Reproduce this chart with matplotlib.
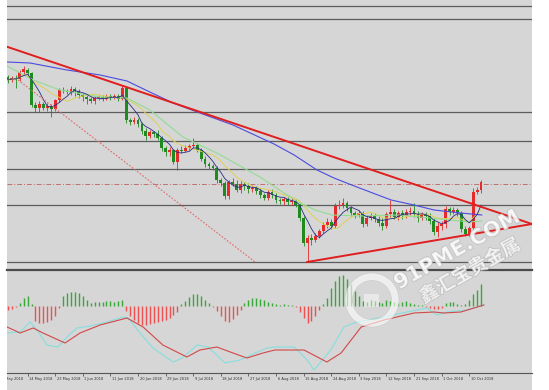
import matplotlib
matplotlib.use("Agg")
import matplotlib.pyplot as plt
import matplotlib.patheffects as pe
import numpy as np
import pandas as pd
from matplotlib.patches import Rectangle, Wedge
from matplotlib.lines import Line2D

# ---------------- data ----------------
bar_index = list(range(2, 123))

open_ = [1308.4, 1306.0, 1307.6, 1306.8, 1312.4, 1314.0, 1311.6, 1286.0, 1283.6, 1286.8,
         1283.6, 1285.2, 1282.8, 1290.0, 1298.0, 1297.2, 1296.4, 1298.8, 1297.2, 1294.0,
         1292.4, 1290.8, 1289.2, 1291.6, 1292.4, 1290.8, 1293.2, 1291.6, 1293.2, 1290.8,
         1299.6, 1274.0, 1272.4, 1274.0, 1270.8, 1265.2, 1261.2, 1264.4, 1262.8, 1259.6,
         1251.6, 1248.4, 1250.0, 1240.4, 1250.0, 1249.2, 1251.6, 1253.2, 1254.0, 1250.0,
         1242.8, 1238.8, 1237.2, 1235.6, 1226.0, 1223.6, 1213.2, 1224.4, 1222.8, 1218.0,
         1222.8, 1221.2, 1218.8, 1219.6, 1217.2, 1214.0, 1211.6, 1216.4, 1214.0, 1210.0,
         1209.2, 1210.8, 1208.4, 1209.2, 1206.0, 1195.6, 1175.6, 1179.6, 1178.0, 1181.2,
         1185.2, 1190.0, 1192.4, 1189.2, 1205.2, 1206.0, 1207.6, 1203.6, 1199.6, 1198.0,
         1199.6, 1190.8, 1195.6, 1197.2, 1194.8, 1191.6, 1189.2, 1198.8, 1200.4, 1196.4,
         1199.6, 1197.2, 1200.4, 1201.2, 1198.8, 1195.6, 1198.8, 1197.2, 1193.2, 1184.4,
         1189.2, 1190.8, 1202.8, 1200.4, 1202.0, 1199.6, 1186.8, 1182.8, 1187.6, 1216.4, 1218.0]

high = [1310.0, 1309.2, 1310.0, 1314.0, 1317.2, 1315.6, 1312.4, 1288.4, 1289.2, 1288.4,
        1287.6, 1286.8, 1290.8, 1299.6, 1300.4, 1298.8, 1301.2, 1300.4, 1298.8, 1295.6,
        1294.0, 1292.4, 1293.2, 1294.0, 1294.0, 1294.8, 1294.8, 1294.8, 1294.8, 1302.0,
        1300.4, 1275.6, 1276.4, 1275.6, 1272.4, 1267.6, 1266.0, 1265.2, 1266.0, 1261.2,
        1253.2, 1252.4, 1250.8, 1251.6, 1253.2, 1254.0, 1254.8, 1259.6, 1255.6, 1251.6,
        1245.2, 1240.4, 1238.8, 1237.2, 1227.6, 1225.2, 1226.0, 1227.6, 1226.0, 1225.2,
        1224.4, 1223.6, 1222.0, 1221.2, 1219.6, 1215.6, 1218.0, 1218.8, 1215.6, 1211.6,
        1212.4, 1212.4, 1211.6, 1210.8, 1207.6, 1197.2, 1182.0, 1182.8, 1183.6, 1186.8,
        1192.4, 1195.6, 1194.8, 1207.6, 1210.0, 1211.6, 1209.2, 1205.2, 1201.2, 1202.0,
        1201.2, 1198.0, 1199.6, 1199.6, 1197.2, 1195.6, 1200.4, 1210.0, 1202.8, 1201.2,
        1202.0, 1202.8, 1204.4, 1207.6, 1201.2, 1200.4, 1200.4, 1199.6, 1195.6, 1192.4,
        1193.2, 1205.2, 1204.4, 1204.4, 1203.6, 1201.2, 1189.2, 1189.2, 1219.6, 1220.4, 1226.0]

low = [1303.6, 1304.4, 1299.6, 1305.2, 1310.8, 1310.0, 1284.4, 1280.4, 1280.4, 1282.0,
       1281.2, 1276.4, 1281.2, 1288.4, 1295.6, 1294.8, 1294.0, 1293.2, 1291.6, 1289.2,
       1286.8, 1287.6, 1286.8, 1290.0, 1289.2, 1290.0, 1290.0, 1290.8, 1289.2, 1290.0,
       1271.6, 1270.0, 1270.8, 1268.4, 1262.8, 1258.0, 1259.6, 1260.4, 1258.0, 1249.2,
       1245.2, 1245.2, 1238.8, 1234.0, 1247.6, 1248.4, 1250.0, 1251.6, 1248.4, 1241.2,
       1236.4, 1234.8, 1234.0, 1223.6, 1221.2, 1210.8, 1210.8, 1221.2, 1216.4, 1215.6,
       1218.0, 1215.6, 1216.4, 1214.8, 1211.6, 1210.0, 1210.0, 1211.6, 1207.6, 1206.8,
       1206.0, 1206.0, 1206.0, 1204.4, 1193.2, 1173.2, 1160.4, 1174.0, 1176.4, 1179.6,
       1183.6, 1187.6, 1186.8, 1187.6, 1202.8, 1203.6, 1201.2, 1197.2, 1195.6, 1196.4,
       1188.4, 1189.2, 1194.0, 1192.4, 1189.2, 1186.0, 1187.6, 1196.4, 1194.8, 1194.0,
       1194.8, 1195.6, 1198.0, 1196.4, 1192.4, 1194.0, 1194.0, 1190.8, 1182.0, 1180.4,
       1186.0, 1187.6, 1198.0, 1198.8, 1197.2, 1184.4, 1181.2, 1181.2, 1183.6, 1214.8, 1215.6]

close = [1306.0, 1307.6, 1306.8, 1312.4, 1314.8, 1311.6, 1286.0, 1283.6, 1286.8, 1283.6,
         1285.2, 1282.8, 1290.0, 1298.0, 1297.2, 1296.4, 1298.8, 1297.2, 1294.0, 1292.4,
         1290.8, 1289.2, 1291.6, 1292.4, 1290.8, 1293.2, 1291.6, 1293.2, 1290.8, 1299.6,
         1274.0, 1272.4, 1274.0, 1270.8, 1265.2, 1261.2, 1264.4, 1262.8, 1259.6, 1251.6,
         1248.4, 1250.0, 1240.4, 1250.0, 1249.2, 1251.6, 1253.2, 1254.0, 1250.0, 1242.8,
         1238.8, 1237.2, 1235.6, 1226.0, 1223.6, 1213.2, 1224.4, 1222.8, 1218.0, 1222.8,
         1221.2, 1218.8, 1219.6, 1217.2, 1214.0, 1211.6, 1216.4, 1214.0, 1210.0, 1209.2,
         1210.8, 1208.4, 1209.2, 1206.0, 1195.6, 1175.6, 1179.6, 1178.0, 1181.2, 1185.2,
         1190.0, 1192.4, 1189.2, 1205.2, 1206.0, 1207.6, 1203.6, 1199.6, 1198.0, 1199.6,
         1190.8, 1195.6, 1197.2, 1194.8, 1191.6, 1189.2, 1198.8, 1200.4, 1196.4, 1199.6,
         1197.2, 1200.4, 1201.2, 1198.8, 1195.6, 1198.8, 1197.2, 1193.2, 1184.4, 1189.2,
         1190.8, 1202.8, 1200.4, 1202.0, 1199.6, 1186.8, 1182.8, 1187.6, 1216.4, 1218.0, 1224.4]

# long moving averages (bar position, price)
ma_blue_x = [1.8, 7.6, 17.0, 25.4, 32.2, 38.0, 43.9, 50.7, 59.1, 69.5, 74.6, 80.4, 84.7,
             90.5, 99.2, 105.0, 110.1, 116.9, 122.2]
ma_blue_y = [1320.4, 1319.6, 1314.0, 1310.0, 1305.2, 1296.4, 1287.6, 1279.6, 1270.0, 1254.8,
             1246.0, 1234.0, 1227.6, 1220.4, 1210.0, 1206.0, 1202.0, 1199.6, 1198.0]
ma_green_x = [1.8, 8.4, 15.2, 25.4, 32.2, 38.0, 46.4, 55.0, 65.9, 75.6, 79.9, 84.2, 91.3,
              101.4, 111.6, 119.2, 122.2]
ma_green_y = [1317.2, 1306.0, 1298.0, 1292.4, 1291.6, 1282.0, 1260.4, 1247.6, 1228.4, 1208.4,
              1202.0, 1198.0, 1197.2, 1198.0, 1194.8, 1192.4, 1193.2]

# horizontal levels and drawn lines
levels = [1365.2, 1354.8, 1280.4, 1257.2, 1234.8, 1206.0, 1160.4]
dash_level = 1222.8
trend_down_x = [1.78, 134.9]
trend_down_y = [1332.6, 1190.8]
trend_up_x = [77.9, 134.9]
trend_up_y = [1160.4, 1190.8]
dotted_x = [4.6, 64.7]
dotted_y = [1306.0, 1160.4]

# MACD panel
macd_hist = [-0.8, -0.6, -0.2, 0.6, 1.6, 2.0, 0.4,
             -3.0, -3.4, -3.4, -3.2, -2.8, -2.0, -0.4,
             2.0, 2.6, 2.8, 2.8, 2.6, 2.0, 1.2,
             0.6, 0.8, 0.8, 0.8, 1.0, 1.0, 0.8, 1.0,
             1.2,
             -1.0, -2.0, -2.8, -3.4, -3.8, -3.8, -3.6, -3.4, -3.2, -3.0, -2.8, -2.4, -1.8, -1.2,
             0.4, 1.0, 1.8, 2.4, 2.4, 2.0, 1.2, 0.6,
             -0.2,
             -1.0, -2.0, -3.0, -3.2, -2.6, -1.8, -0.8,
             0.6, 1.2, 1.6, 1.6, 1.4, 1.2, 0.8, 0.6,
             0.4, 0.2, 0.4, 0.2, 0.2, -0.2,
             -1.2, -2.4, -3.4, -3.0, -2.0, -0.8,
             0.4,
             1.6, 3.6, 5.0, 6.0, 6.2, 5.4, 4.4, 3.0, 2.0,
             1.0, 0.8, 1.2, 1.0, 0.8, 0.6, 1.2, 1.0, 0.8, 0.6, 0.8, 1.0, 0.6, 0.4, 0.2, 0.2,
             -0.2,
             -0.4, -0.6, -0.6, -0.4,
             0.6, 0.8, 0.8, 0.4,
             0.2, 0.4,
             1.2, 2.4, 3.2, 4.4]
dif_x = [1.8, 5.1, 7.6, 9.4, 11.9, 14.7, 17.0, 19.5, 22.8, 27.1, 31.2, 32.5, 35.5, 38.8,
         43.9, 46.2, 50.0, 52.8, 57.1, 60.9, 64.7, 67.7, 69.7, 74.6, 77.9, 79.6, 83.9, 87.2,
         90.5, 97.4, 103.2, 108.3, 110.8, 113.4, 118.4, 122.7]
dif_y = [-5.4, -5.2, -3.2, -4.8, -7.8, -8.2, -6.2, -4.4, -4.0, -3.2, -2.2, -2.4, -5.4, -8.4,
         -11.2, -10.4, -7.8, -8.2, -11.4, -10.8, -9.4, -8.4, -8.2, -8.2, -10.8, -12.8, -8.8, -4.2,
         -3.2, -2.2, -1.2, -0.4, -1.8, -1.2, -0.8, 0.2]
dea_x = [1.8, 5.1, 8.4, 10.9, 16.5, 20.3, 25.4, 32.2, 36.3, 41.3, 47.4, 50.7, 55.0, 59.1,
         62.6, 66.7, 69.7, 77.1, 82.9, 86.5, 91.6, 97.4, 105.0, 110.1, 112.6, 116.9, 122.7]
dea_y = [-4.2, -5.4, -4.4, -5.4, -7.4, -5.4, -3.8, -2.4, -4.2, -7.8, -10.2, -8.8, -8.2, -9.4,
         -10.4, -9.4, -8.8, -8.8, -11.2, -9.4, -4.2, -2.8, -1.4, -1.2, -1.4, -1.2, 0.2]

date_ticks = list(range(0, 120, 7))
date_labels = ["3 May 2018", "14 May 2018", "23 May 2018", "1 Jun 2018", "11 Jun 2018",
               "20 Jun 2018", "29 Jun 2018", "9 Jul 2018", "18 Jul 2018", "27 Jul 2018",
               "6 Aug 2018", "15 Aug 2018", "24 Aug 2018", "3 Sep 2018", "12 Sep 2018",
               "21 Sep 2018", "1 Oct 2018", "10 Oct 2018"]

# ---------------- drawing ----------------
W, H = 549, 390
BG = "#d6d6d6"
UP = "#e42a2a"
DN = "#1f8a1f"

fig = plt.figure(figsize=(W / 100, H / 100), dpi=100)
fig.patch.set_facecolor("white")
fig.add_artist(Rectangle((7 / W, 0), 525 / W, 1, transform=fig.transFigure,
                         facecolor=BG, edgecolor="none", zorder=-5))

XLIM = (7 / 3.943, 532 / 3.943)

ax1 = fig.add_axes([7 / W, 1 - 270 / H, 525 / W, 270 / H])
ax1.set_xlim(*XLIM)
ax1.set_ylim(1154, 1370)
ax1.axis("off")

for lv in levels:
    ax1.axhline(lv, color="#5c5c5c", lw=0.9, zorder=1)
ax1.axhline(dash_level, color="#c07070", lw=0.7, ls=(0, (5, 2, 1, 2)), zorder=1)

n = min(len(bar_index), len(open_), len(high), len(low), len(close))
x = np.array(bar_index[:n], dtype=float)
o = np.array(open_[:n]); h = np.array(high[:n]); l = np.array(low[:n]); c = np.array(close[:n])
up = c >= o
cols = np.where(up, UP, DN)
ax1.vlines(x, l, h, colors=cols, lw=0.6, zorder=3)
body = np.maximum(np.abs(c - o), 0.5)
ax1.bar(x, body, bottom=np.minimum(o, c), width=0.72, color=cols, lw=0, zorder=4)

cs = pd.Series(c)
ma5 = cs.rolling(5, min_periods=1).mean()
ma10 = cs.rolling(10, min_periods=1).mean()
ax1.plot(x, ma10, color="#dcd255", lw=0.7, zorder=5)
ax1.plot(ma_green_x, ma_green_y, color="#92dc92", lw=0.8, zorder=5)
ax1.plot(ma_blue_x, ma_blue_y, color="#4b4be0", lw=0.8, zorder=5)
ax1.plot(x, ma5, color="#2c2c86", lw=0.6, zorder=5)

ax1.plot(dotted_x, dotted_y, color="#e06a6a", lw=0.8, ls=(0, (1.5, 1.5)), zorder=6)
ax1.plot(trend_down_x, trend_down_y, color="#e01e1e", lw=1.4, zorder=6)
ax1.plot(trend_up_x, trend_up_y, color="#e01e1e", lw=1.4, zorder=6)

# separator between panels
fig.add_artist(Line2D([7 / W, 532 / W], [1 - 270 / H] * 2, transform=fig.transFigure,
                      color="#4a4a4a", lw=1.6))

ax2 = fig.add_axes([7 / W, 1 - 373 / H, 525 / W, 102 / H])
ax2.set_xlim(*XLIM)
ax2.set_ylim(-13.4, 7.0)
ax2.axis("off")
hist = np.array(macd_hist[:n])
hcols = np.where(hist >= 0, "#38a838", "#ee5050")
ax2.vlines(x[:len(hist)], 0, hist, colors=hcols, lw=1.0)
ax2.plot(dif_x, dif_y, color="#86dede", lw=0.8)
ax2.plot(dea_x, dea_y, color="#d24848", lw=0.8)

fig.add_artist(Line2D([7 / W, 532 / W], [1 - 373 / H] * 2, transform=fig.transFigure,
                      color="#555555", lw=0.8))

ax3 = fig.add_axes([7 / W, 1 - 388 / H, 525 / W, 15 / H])
ax3.set_xlim(*XLIM)
ax3.set_ylim(0, 1)
ax3.axis("off")
ax3.vlines(date_ticks, 0.78, 1.0, colors="#555555", lw=0.6)
for t, lab in zip(date_ticks, date_labels):
    ax3.text(t + 0.4, 0.62, lab, fontsize=2.6, color="#303030", ha="left", va="center",
             clip_on=True)

# watermark
shadow = [pe.withStroke(linewidth=1.2, foreground="#b8b8b8")]
fig.add_artist(Wedge((3.72, 0.90), 0.27, 0, 360, width=0.075, transform=fig.dpi_scale_trans,
                     facecolor="white", edgecolor="#c0c0c0", lw=0.5, alpha=0.6, zorder=20))
fig.add_artist(Rectangle((3.64, 0.83), 0.15, 0.13, transform=fig.dpi_scale_trans,
                         facecolor="white", edgecolor="none", alpha=0.45, zorder=20))
fig.text(457 / W, 1 - 250 / H, "91PME.COM", rotation=29.5, fontsize=15, fontweight="bold",
         color="white", alpha=0.65, ha="center", va="center", rotation_mode="anchor",
         zorder=21, path_effects=shadow)
fig.text(470 / W, 1 - 271 / H, "鑫汇宝贵金属", rotation=29.5, fontsize=13.5,
         family=["Noto Sans CJK SC", "DejaVu Sans"], fontweight="bold",
         color="white", alpha=0.65, ha="center", va="center", rotation_mode="anchor",
         zorder=21, path_effects=shadow)

fig.savefig("out.png", dpi=100, facecolor=fig.get_facecolor())
